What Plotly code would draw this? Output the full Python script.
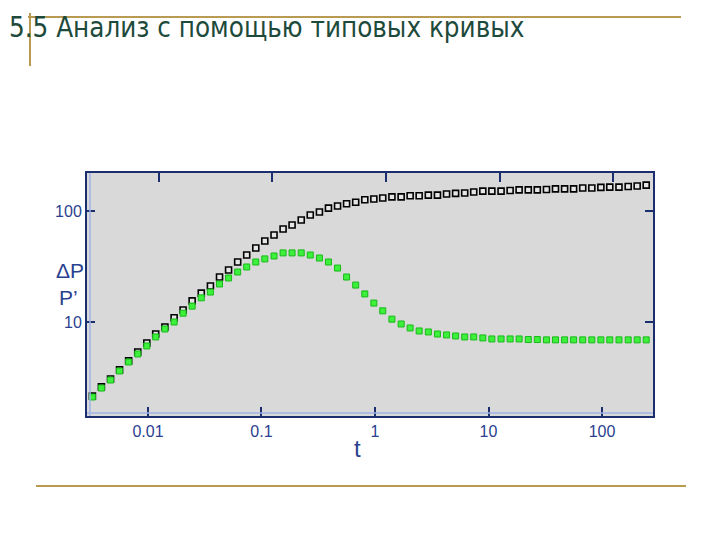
import plotly.graph_objects as go

# ---- data ----
t = [0.00324, 0.00389, 0.00468, 0.00562, 0.00676, 0.00813, 0.00977, 0.0117, 0.0141, 0.0170,
     0.0204, 0.0245, 0.0295, 0.0355, 0.0427, 0.0513, 0.0617, 0.0741, 0.0891, 0.107,
     0.129, 0.155, 0.186, 0.224, 0.269, 0.324, 0.389, 0.468, 0.562, 0.676,
     0.813, 0.977, 1.17, 1.41, 1.70, 2.04, 2.45, 2.95, 3.55, 4.27,
     5.13, 6.17, 7.41, 8.91, 10.7, 12.9, 15.5, 18.6, 22.4, 26.9,
     32.4, 38.9, 46.8, 56.2, 67.6, 81.3, 97.7, 117, 141, 170,
     204, 245]

dP = [2.15, 2.60, 3.06, 3.70, 4.46, 5.37, 6.47, 7.79, 9.02, 10.9,
      12.8, 15.5, 18.2, 21.1, 25.4, 29.4, 34.7, 40.1, 46.4, 53.7,
      60.8, 68.8, 74.8, 83.0, 92.0, 97.9, 106, 111, 116, 120,
      126, 128, 131, 134, 134, 137, 137, 139, 139, 142,
      144, 145, 148, 151, 151, 151, 153, 155, 155, 155,
      156, 158, 158, 158, 161, 161, 163, 164, 164, 166,
      168, 171]

dPder = [2.11, 2.54, 3.00, 3.62, 4.36, 5.15, 6.08, 7.33, 8.65, 10.0,
         12.0, 13.9, 16.5, 18.6, 22.0, 24.9, 28.2, 31.3, 34.7, 37.0,
         39.3, 41.9, 41.9, 41.9, 40.1, 37.7, 34.7, 30.6, 25.4, 21.5,
         17.9, 14.8, 12.6, 10.6, 9.59, 8.83, 8.30, 8.13, 7.79, 7.64,
         7.48, 7.33, 7.33, 7.18, 7.03, 7.03, 7.03, 7.03, 6.95, 6.95,
         6.9, 6.9, 6.9, 6.9, 6.9, 6.9, 6.9, 6.9, 6.9, 6.9,
         6.9, 6.9]

x_ticks = [0.01, 0.1, 1, 10, 100]
x_labels = ["0.01", "0.1", "1", "10", "100"]
y_ticks = [10, 100]
y_labels = ["10", "100"]

title_text = "5.5 Анализ с помощью типовых кривых"

# ---- layout geometry (pixels in the 720x540 window) ----
OFF = 8  # page body margin
W, H = 720 - OFF, 540 - OFF
L, R, T, B = 87, 653, 173, 416
PW, PH = R - L, B - T

def px(x):
    return (x - L) / PW

def py(y):
    return (B - y) / PH

NAVY = "#1b2f6e"
LABEL = "#2a4190"
GOLD = "#b89a52"

fig = go.Figure()

fig.add_trace(go.Scatter(
    x=t, y=dP, mode="markers", name="ΔP",
    marker=dict(symbol="square", size=6, color="#e6e6e6",
                line=dict(color="black", width=1.6)),
    showlegend=False))

fig.add_trace(go.Scatter(
    x=t, y=dPder, mode="markers", name="P'",
    marker=dict(symbol="square", size=6, color="#3cf03c",
                line=dict(color="#19b919", width=1)),
    showlegend=False))

# top ticks (offset in the original chart)
fig.add_trace(go.Scatter(x=[1], y=[1], xaxis="x2", mode="markers",
                         marker=dict(opacity=0), showlegend=False, hoverinfo="skip"))

xr = [-2.537, 2.449]
shift = 11 / 113.5

fig.update_layout(
    width=W, height=H,
    margin=dict(l=L - OFF, r=W - (R - OFF), t=T - OFF, b=H - (B - OFF), pad=0),
    paper_bgcolor="white",
    plot_bgcolor="#d9d9d9",
    font=dict(family="Liberation Sans, Arial, sans-serif", color=LABEL),
    xaxis=dict(type="log", range=xr, tickvals=x_ticks, ticktext=x_labels,
               ticks="inside", ticklen=9, tickwidth=1.5, tickcolor=NAVY,
               showline=True, linecolor=NAVY, linewidth=2, mirror=True,
               showgrid=False, zeroline=False,
               tickfont=dict(size=16, color=LABEL)),
    xaxis2=dict(type="log", range=[xr[0] - shift, xr[1] - shift], overlaying="x",
                side="top", tickvals=x_ticks, showticklabels=False,
                ticks="inside", ticklen=9, tickwidth=1.5, tickcolor=NAVY,
                showline=False, showgrid=False, zeroline=False),
    yaxis=dict(type="log", range=[0.153, 2.342], tickvals=y_ticks, ticktext=y_labels,
               ticks="inside", ticklen=8, tickwidth=2, tickcolor=NAVY,
               showline=True, linecolor=NAVY, linewidth=2, mirror="ticks",
               showgrid=False, zeroline=False,
               tickfont=dict(size=16, color=LABEL)),
)

shapes = []
# light inner border lines (double-line look)
shapes.append(dict(type="line", xref="paper", yref="paper",
                   x0=px(L + 3), x1=px(L + 3), y0=0, y1=1,
                   line=dict(color="#9fb3e3", width=1.5)))
shapes.append(dict(type="line", xref="paper", yref="paper",
                   x0=0, x1=1, y0=py(B - 3), y1=py(B - 3),
                   line=dict(color="#9fb3e3", width=1.5)))
# gold decorative lines
shapes.append(dict(type="line", xref="paper", yref="paper",
                   x0=px(28), x1=px(681), y0=py(17), y1=py(17),
                   line=dict(color=GOLD, width=2)))
shapes.append(dict(type="line", xref="paper", yref="paper",
                   x0=px(30), x1=px(30), y0=py(13), y1=py(66),
                   line=dict(color=GOLD, width=2)))
shapes.append(dict(type="line", xref="paper", yref="paper",
                   x0=px(36), x1=px(686), y0=py(486), y1=py(486),
                   line=dict(color=GOLD, width=2)))
fig.update_layout(shapes=shapes)

ann = []
ann.append(dict(text=title_text, xref="paper", yref="paper",
                x=px(8), y=py(27), xanchor="left", yanchor="middle",
                showarrow=False, borderpad=0,
                font=dict(family="DejaVu Sans Condensed, DejaVu Sans, sans-serif",
                          size=27.5, color="#1d4a3b")))
ann.append(dict(text="ΔP", xref="paper", yref="paper",
                x=px(70), y=py(270), xanchor="center", yanchor="middle",
                showarrow=False, font=dict(size=21, color=LABEL)))
ann.append(dict(text="P’", xref="paper", yref="paper",
                x=px(68), y=py(297), xanchor="center", yanchor="middle",
                showarrow=False, font=dict(size=21, color=LABEL)))
ann.append(dict(text="t", xref="paper", yref="paper",
                x=px(357), y=py(448), xanchor="center", yanchor="middle",
                showarrow=False, font=dict(size=24, color=LABEL)))
fig.update_layout(annotations=ann)

fig.write_html("out.html")
